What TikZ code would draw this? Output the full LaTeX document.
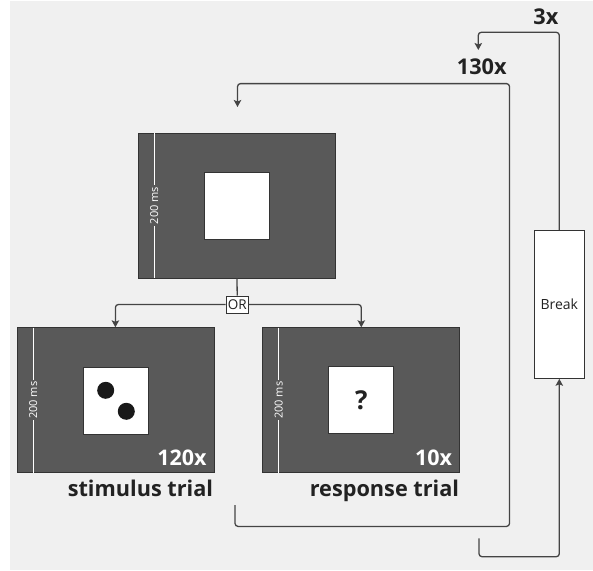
\documentclass[tikz,border=0pt]{standalone}
\usepackage{fontspec}
\setmainfont{Open Sans}
\usetikzlibrary{arrows.meta}
\definecolor{bg}{HTML}{F0F0F0}
\definecolor{scr}{HTML}{595959}
\definecolor{edge}{HTML}{333333}
\definecolor{conn}{HTML}{444444}
\definecolor{txt}{HTML}{222222}
\tikzset{
  screen/.style={draw=edge, line width=0.8pt, fill=scr, minimum width=197pt, minimum height=145pt, inner sep=0pt},
  inner/.style={draw=edge, line width=1pt, fill=white, minimum width=65pt, minimum height=67pt, inner sep=0pt},
  conline/.style={draw=conn, line width=1.3pt, rounded corners=3pt},
  arr/.style={conline, -{Stealth[length=7pt,width=7.5pt,inset=1.5pt]}},
  durline/.style={draw=white, line width=1pt},
  durlabel/.style={text=white, fill=scr, rotate=90, font=\fontsize{11}{11}\selectfont, inner sep=1.5pt},
  count/.style={text=white, font=\fontsize{21.5}{21.5}\selectfont\bfseries, anchor=base east, inner sep=0pt},
  caption/.style={text=txt, font=\fontsize{21.7}{21.7}\selectfont\bfseries, anchor=base east, inner sep=0pt},
  dot/.style={circle, fill=black!90, minimum size=17pt, inner sep=0pt},
}
\begin{document}
\begin{tikzpicture}[x=1pt, y=-1pt]
\useasboundingbox (0,0) rectangle (593,570);
\fill[white] (0,0) rectangle (593,570);
\fill[bg] (10,1) rectangle (593,570);

% screens
\node[screen] (top) at (237,205.5) {};
\node[screen] (stim) at (115.4,400.2) {};
\node[screen] (resp) at (361.3,400.2) {};

% inner squares
\node[inner] (topsq) at (237,205.5) {};
\node[inner] (stimsq) at (115.7,400.5) {};
\node[inner] (respsq) at (361.3,400.4) {\fontsize{26}{26}\selectfont\bfseries\color{txt}?};
\node[dot] (d1) at (105.7,390.3) {};
\node[dot] (d2) at (126.3,411.3) {};

% duration lines
\coordinate (tl1) at (154.3,133);
\coordinate (tl2) at (154.3,278);
\draw[durline] (tl1) -- (tl2);
\node[durlabel] (tdur) at (154.3,205.5) {200 ms};
\coordinate (sl1) at (33.3,327.7);
\coordinate (sl2) at (33.3,472.7);
\draw[durline] (sl1) -- (sl2);
\node[durlabel] (sdur) at (33.3,400.2) {200 ms};
\coordinate (rl1) at (278.7,327.7);
\coordinate (rl2) at (278.7,472.7);
\draw[durline] (rl1) -- (rl2);
\node[durlabel] (rdur) at (278.7,400.2) {200 ms};

% counts
\node[count] (c120) at (206.7,465.7) {120x};
\node[count] (c10) at (452.3,465.7) {10x};
\node[caption] (capS) at (213.3,496.7) {stimulus trial};
\node[caption] (capR) at (459.3,496.7) {response trial};

% OR
\node[draw=edge, line width=1pt, fill=white, minimum width=22pt, minimum height=17pt, inner sep=0pt, font=\fontsize{13.5}{13.5}\selectfont, text=txt] (or) at (237.2,304.5) {OR};
\draw[conline] (top.south) -- (or.north);
\draw[arr] (or.west) -| (stim.north);
\draw[arr] (or.east) -| (resp.north);

% Break
\node[draw=edge, line width=1pt, fill=white, minimum width=50pt, minimum height=148pt, inner sep=0pt, font=\fontsize{14}{14}\selectfont, text=txt] (brk) at (559.3,304.3) {Break};

% 130x loop
\coordinate (l1s) at (235,505);
\coordinate (l1e) at (237.5,107);
\draw[arr] (l1s) -- (235,526.4) -- (509.5,526.4) -- (509.5,83.6) -- (237.5,83.6) -- (l1e);
\node[caption] (c130) at (506.8,74.5) {130x};

% 3x loop
\coordinate (l2s) at (479,538.3);
\draw[arr] (l2s) -- (479,556.7) -- (559.3,556.7) -- (brk.south);
\coordinate (l2e) at (478.3,50);
\draw[arr] (brk.north) -- (559.3,32.3) -- (478.3,32.3) -- (l2e);
\node[caption] (c3) at (558.5,24.8) {3x};
\end{tikzpicture}
\end{document}
